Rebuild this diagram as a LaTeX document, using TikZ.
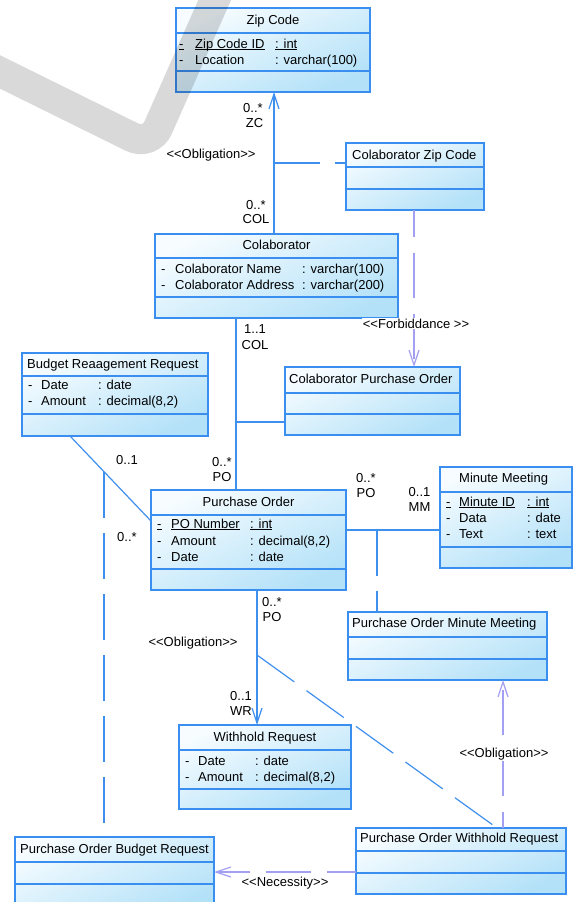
\documentclass[tikz,border=0pt]{standalone}
\usepackage{fontspec}
\setmainfont{Liberation Sans}
\usetikzlibrary{arrows.meta}
\definecolor{boxblue}{HTML}{3A8EEF}
\definecolor{lineblue}{HTML}{3F8FEE}
\definecolor{lav}{HTML}{A39FF2}
\definecolor{boxtop}{HTML}{F6FCFF}
\definecolor{boxbot}{HTML}{B3E1F8}
\newcommand\ulin[1]{\setbox0\hbox{#1}\rlap{\rule[-1.6pt]{\wd0}{0.7pt}}\box0}
\newcommand\umlclass[7]{%
  \node[classbox, anchor=north west, minimum width={(#4)-(#2)}, minimum height={(#5)-(#3)}] (#1) at (#2,#3) {};
  \draw[divider] (#2,#6) -- (#4,#6);
  \draw[divider] (#2,#7) -- (#4,#7);}
\tikzset{
  classbox/.style={draw=boxblue, line width=1.4pt, top color=boxtop, bottom color=boxbot, shading angle=25, inner sep=0pt, outer sep=0pt},
  divider/.style={draw=boxblue, line width=1.2pt},
  txt/.style={inner sep=0pt, anchor=base west, font=\fontsize{13}{15}\selectfont},
  ttl/.style={txt},
  ttlc/.style={txt, anchor=base},
  lbl/.style={txt, anchor=base},
  lblw/.style={txt, anchor=base, fill=white, inner sep=1pt},
  assoc/.style={draw=lineblue, line width=1.2pt},
  assocdash/.style={assoc, dash pattern=on 46pt off 15pt},
  depline/.style={draw=lav, line width=1.2pt, dash pattern=on 45pt off 16pt},
  vhead/.style={-{Straight Barb[length=15pt,width=10pt]}}
}
\begin{document}
\begin{tikzpicture}[x=1pt,y=-1pt]
\useasboundingbox (0,0) rectangle (578,902);
\clip (0,0) rectangle (578,902);

% ---------- classes ----------
\umlclass{zip}{176}{8}{370}{92}{33}{71}
\umlclass{czc}{346}{143}{484}{210}{167}{189}
\umlclass{colab}{155}{234}{398}{318}{258}{297}
\umlclass{bud}{22}{353}{208}{436}{376}{414}
\umlclass{cpo}{285}{367}{460}{435}{393}{414}
\umlclass{mm}{440}{467}{572}{568}{492}{547}
\umlclass{po}{151}{490}{346}{590}{515}{569}
\umlclass{pomm}{348}{612}{547}{680}{637}{659}
\umlclass{wr}{179}{725}{351}{809}{750}{789}
\umlclass{pobr}{15}{837}{214}{912}{862}{884}
\umlclass{pwr}{356}{828}{566}{894}{851}{873}

% ---------- titles ----------
\node[ttlc] (zipT) at (273,24) {Zip Code};
\node[ttl] (czcT) at (352,159) {Colaborator Zip Code};
\node[ttlc] (colabT) at (276.5,249) {Colaborator};
\node[ttl] (budT) at (27,368) {Budget Reaagement Request};
\node[ttl] (cpoT) at (289,383) {Colaborator Purchase Order};
\node[ttl] (mmT) at (459,482) {Minute Meeting};
\node[ttlc] (poT) at (248.5,506) {Purchase Order};
\node[ttl] (pommT) at (352,627) {Purchase Order Minute Meeting};
\node[ttlc] (wrT) at (265,741) {Withhold Request};
\node[ttl] (pobrT) at (20,853) {Purchase Order Budget Request};
\node[ttl] (pwrT) at (360,842) {Purchase Order Withhold Request};

% ---------- attributes ----------
\node[txt] (z1a) at (179,48) {\ulin{-}};
\node[txt] (z1b) at (195,48) {\ulin{Zip Code ID}};
\node[txt] (z1c) at (275,48) {\ulin{: int}};
\node[txt] (z2a) at (179,64) {-};
\node[txt] (z2b) at (195,64) {Location};
\node[txt] (z2c) at (275,64) {: varchar(100)};

\node[txt] (c1a) at (161,273) {-};
\node[txt] (c1b) at (175,273) {Colaborator Name};
\node[txt] (c1c) at (302,273) {: varchar(100)};
\node[txt] (c2a) at (161,289) {-};
\node[txt] (c2b) at (175,289) {Colaborator Address};
\node[txt] (c2c) at (302,289) {: varchar(200)};

\node[txt] (b1a) at (28,389) {-};
\node[txt] (b1b) at (41,389) {Date};
\node[txt] (b1c) at (98,389) {: date};
\node[txt] (b2a) at (28,405) {-};
\node[txt] (b2b) at (41,405) {Amount};
\node[txt] (b2c) at (98,405) {: decimal(8,2)};

\node[txt] (m1a) at (446,506) {\ulin{-}};
\node[txt] (m1b) at (459,506) {\ulin{Minute ID}};
\node[txt] (m1c) at (527,506) {\ulin{: int}};
\node[txt] (m2a) at (446,522) {-};
\node[txt] (m2b) at (459,522) {Data};
\node[txt] (m2c) at (527,522) {: date};
\node[txt] (m3a) at (446,538) {-};
\node[txt] (m3b) at (459,538) {Text};
\node[txt] (m3c) at (527,538) {: text};

\node[txt] (p1a) at (157,528) {\ulin{-}};
\node[txt] (p1b) at (171,528) {\ulin{PO Number}};
\node[txt] (p1c) at (250,528) {\ulin{: int}};
\node[txt] (p2a) at (157,545) {-};
\node[txt] (p2b) at (171,545) {Amount};
\node[txt] (p2c) at (250,545) {: decimal(8,2)};
\node[txt] (p3a) at (157,561) {-};
\node[txt] (p3b) at (171,561) {Date};
\node[txt] (p3c) at (250,561) {: date};

\node[txt] (w1a) at (185,765) {-};
\node[txt] (w1b) at (198,765) {Date};
\node[txt] (w1c) at (255,765) {: date};
\node[txt] (w2a) at (185,781) {-};
\node[txt] (w2b) at (198,781) {Amount};
\node[txt] (w2c) at (255,781) {: decimal(8,2)};

% ---------- helper coordinates ----------
\coordinate (xzc) at (274,0);
\coordinate (m1) at (274,163);
\coordinate (xcp) at (236,0);
\coordinate (m2) at (236,422);
\coordinate (bs) at (70,0);
\coordinate (pe) at (0,521);
\coordinate (m3) at (104,472);
\coordinate (ymm) at (0,530);
\coordinate (m4) at (377,530);
\coordinate (xwr) at (257,0);
\coordinate (m5) at (257,655);
\coordinate (xpw) at (497,0);
\coordinate (xdep1) at (414,0);
\coordinate (xdep2) at (503,0);
\coordinate (ydep3) at (0,872);

% ---------- associations ----------
\draw[assoc, vhead] (colab.north -| xzc) -- (zip.south -| xzc);
\draw[assocdash] (m1) -- (czc.west |- m1);

\draw[assoc] (colab.south -| xcp) -- (po.north -| xcp);
\draw[assoc] (m2) -- (cpo.west |- m2);

\draw[assoc] (bud.south -| bs) -- (po.west |- pe);
\draw[assocdash] (m3) -- (pobr.north -| m3);

\draw[assoc] (po.east |- ymm) -- (mm.west |- ymm);
\draw[assocdash] (m4) -- (pomm.north -| m4);

\draw[assoc, vhead] (po.south -| xwr) -- (wr.north -| xwr);
\draw[assocdash] (m5) -- (pwr.north -| xpw);

% ---------- dependencies ----------
\draw[depline, dash phase=18pt, vhead] (czc.south -| xdep1) -- (cpo.north -| xdep1);
\draw[depline, dash phase=29pt, vhead] (pwr.north -| xdep2) -- (pomm.south -| xdep2);
\draw[depline, dash phase=16pt, vhead] (pwr.west |- ydep3) -- (pobr.east |- ydep3);

% ---------- labels ----------
\node[lbl] (l1) at (253,112) {0..*};
\node[lbl] (l2) at (254.5,127) {ZC};
\node[lbl] (l3) at (256,209) {0..*};
\node[lbl] (l4) at (256,223) {COL};
\node[lbl] (l5) at (211,158) {<{}<Obligation>{}>};
\node[lbl] (l6) at (255,333) {1..1};
\node[lbl] (l7) at (255,349) {COL};
\node[lbl] (l8) at (222,466) {0..*};
\node[lbl] (l9) at (222,481) {PO};
\node[lbl] (l10) at (127,464) {0..1};
\node[lbl] (l11) at (127,541) {0..*};
\node[lbl] (l12) at (366,482) {0..*};
\node[lbl] (l13) at (366,497) {PO};
\node[lbl] (l14) at (419.5,496) {0..1};
\node[lbl] (l15) at (419.5,511) {MM};
\node[lbl] (l16) at (272,606) {0..*};
\node[lbl] (l17) at (272,621) {PO};
\node[lbl] (l18) at (193,646) {<{}<Obligation>{}>};
\node[lbl] (l19) at (241,700) {0..1};
\node[lbl] (l20) at (241,715) {WR};
\node[lblw] (l21) at (504,757) {<{}<Obligation>{}>};
\node[lblw] (l22) at (416,328) {<{}<Forbiddance >{}>};
\node[lbl] (l23) at (285,886) {<{}<Necessity>{}>};

% ---------- watermark ----------
\draw[line width=30pt, black, opacity=0.15, rounded corners=20pt] (220,-12) -- (150,146) -- (-12,66);
\end{tikzpicture}
\end{document}
